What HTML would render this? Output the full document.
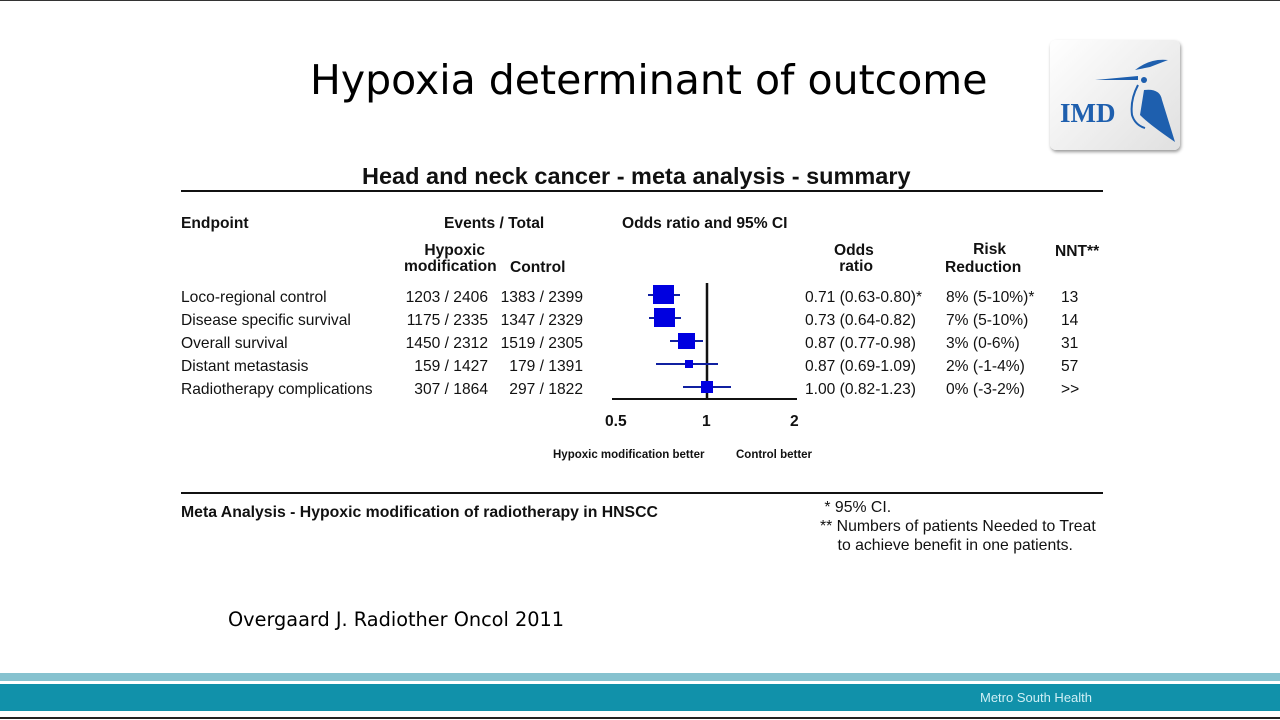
<!DOCTYPE html>
<html><head><meta charset="utf-8"><style>
body{margin:0;width:1280px;height:720px;position:relative;background:#fff;overflow:hidden;font-family:"Liberation Sans",sans-serif;color:#111}
.t{position:absolute;white-space:nowrap;font-size:15.6px}
.b{font-weight:bold}
</style></head><body>
<div style="position:absolute;left:0;top:0;width:1280px;height:1px;background:#333"></div>
<div class="t" style="left:310px;top:56px;font-size:41px;font-family:'DejaVu Sans','Liberation Sans',sans-serif;color:#000">Hypoxia determinant of outcome</div>
<div style="position:absolute;left:1050px;top:40px;width:130px;height:110px;border-radius:6px;background:linear-gradient(135deg,#fff,#e0e0e0);box-shadow:1px 2px 3px #999"></div>
<svg style="position:absolute;left:1050px;top:40px" width="130" height="110">
<path d="M45 40 L88 36 L88 40 Z" fill="#1e5fae"/>
<path d="M85 30 Q100 18 118 20 L100 27 Z" fill="#1e5fae"/>
<path d="M94 50 Q110 48 112 60 L125 102 Q100 85 90 75 Z" fill="#1e5fae"/>
<path d="M88 45 Q80 60 82 75 Q85 85 95 88" stroke="#1e5fae" stroke-width="2" fill="none"/>
<circle cx="94" cy="40" r="3" fill="#1e5fae"/>
<text x="10" y="82" font-family="Liberation Serif,serif" font-weight="bold" font-size="27" fill="#1e5fae">IMD</text>
</svg>
<div class="t b" style="left:362px;top:163px;font-size:23.5px">Head and neck cancer - meta analysis - summary</div>
<div style="position:absolute;left:181px;top:190px;width:922px;height:2px;background:#111"></div>
<div class="t b" style="left:181px;top:215px">Endpoint</div>
<div class="t b" style="left:444px;top:215px">Events / Total</div>
<div class="t b" style="left:622px;top:215px">Odds ratio and 95% CI</div>
<div class="t b" style="left:404px;top:243px;text-align:center;line-height:16px">&nbsp;&nbsp;Hypoxic<br>modification</div>
<div class="t b" style="left:510px;top:259px">Control</div>
<div class="t b" style="left:834px;top:243px;text-align:center;line-height:16px">Odds<br>&nbsp;ratio</div>
<div class="t b" style="left:945px;top:241px;text-align:center;line-height:18px">&nbsp;&nbsp;&nbsp;Risk<br>Reduction</div>
<div class="t b" style="left:1055px;top:243px">NNT**</div>
<div class="t" style="left:181px;top:286px;line-height:23px">Loco-regional control<br>Disease specific survival<br>Overall survival<br>Distant metastasis<br>Radiotherapy complications</div>
<div class="t" style="left:396px;top:286px;line-height:23px;text-align:right;width:92px">1203 / 2406<br>1175 / 2335<br>1450 / 2312<br>159 / 1427<br>307 / 1864</div>
<div class="t" style="left:490px;top:286px;line-height:23px;text-align:right;width:93px">1383 / 2399<br>1347 / 2329<br>1519 / 2305<br>179 / 1391<br>297 / 1822</div>
<div class="t" style="left:805px;top:286px;line-height:23px">0.71 (0.63-0.80)*<br>0.73 (0.64-0.82)<br>0.87 (0.77-0.98)<br>0.87 (0.69-1.09)<br>1.00 (0.82-1.23)</div>
<div class="t" style="left:946px;top:286px;line-height:23px">8% (5-10%)*<br>7% (5-10%)<br>3% (0-6%)<br>2% (-1-4%)<br>0% (-3-2%)</div>
<div class="t" style="left:1061px;top:286px;line-height:23px">13<br>14<br>31<br>57<br>&gt;&gt;</div>
<svg style="position:absolute;left:0;top:0" width="1280" height="720">
<line x1="612" y1="399" x2="797" y2="399" stroke="#111" stroke-width="2"/>
<line x1="707" y1="283" x2="707" y2="399" stroke="#111" stroke-width="2.5"/>
<g stroke="#1020a0" stroke-width="2">
<line x1="648" y1="295" x2="680" y2="295"/><line x1="649" y1="318" x2="681" y2="318"/>
<line x1="670" y1="341" x2="703" y2="341"/><line x1="656" y1="364" x2="718" y2="364"/>
<line x1="683" y1="387" x2="731" y2="387"/></g>
<g fill="#0000e0">
<rect x="653" y="285" width="21" height="19"/><rect x="654" y="308" width="21" height="19"/>
<rect x="678" y="333" width="17" height="16"/><rect x="685" y="360" width="8" height="8"/>
<rect x="701" y="381" width="12" height="12"/></g>
</svg>
<div class="t b" style="left:605px;top:413px">0.5</div>
<div class="t b" style="left:702px;top:413px">1</div>
<div class="t b" style="left:790px;top:413px">2</div>
<div class="t b" style="left:553px;top:449px;font-size:11.5px">Hypoxic modification better</div>
<div class="t b" style="left:736px;top:449px;font-size:11.5px">Control better</div>
<div style="position:absolute;left:181px;top:492px;width:922px;height:2px;background:#111"></div>
<div class="t b" style="left:181px;top:504px;font-size:15.8px">Meta Analysis - Hypoxic modification of radiotherapy in HNSCC</div>
<div class="t" style="left:820px;top:498px;line-height:19px;font-size:15.8px">&nbsp;* 95% CI.<br>** Numbers of patients Needed to Treat<br>&nbsp;&nbsp;&nbsp;&nbsp;to achieve benefit in one patients.</div>
<div class="t" style="left:228px;top:608px;font-size:19.3px;font-family:'DejaVu Sans','Liberation Sans',sans-serif;color:#000">Overgaard J. Radiother Oncol 2011</div>
<div style="position:absolute;left:0;top:673px;width:1280px;height:8px;background:#86c2cf"></div>
<div style="position:absolute;left:0;top:684px;width:1280px;height:27px;background:#1191aa"></div>
<div class="t" style="left:980px;top:690px;font-size:13px;color:#cfeff5">Metro South Health</div>
<div style="position:absolute;left:0;top:717px;width:1280px;height:2px;background:#222"></div>
</body></html>
